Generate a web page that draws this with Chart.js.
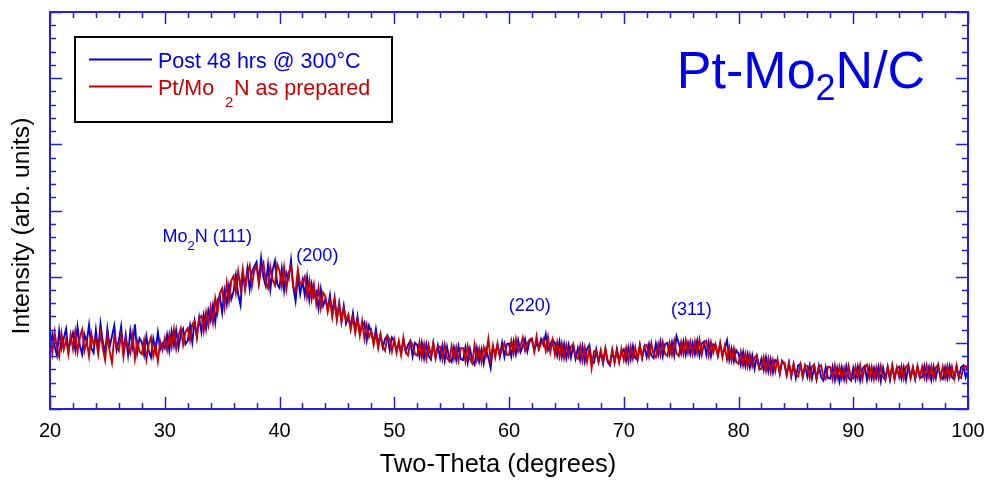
<!DOCTYPE html>
<html>
<head>
<meta charset="utf-8">
<title>Pt-Mo2N/C XRD</title>
<script src="https://cdn.jsdelivr.net/npm/chart.js@4.4.1/dist/chart.umd.min.js"></script>
<style>
  html, body { margin: 0; padding: 0; background: #fff; }
  #wrap { position: relative; width: 988px; height: 481px; }
</style>
</head>
<body>
<div id="wrap"><canvas id="xrd" width="988" height="481"></canvas></div>
<script>
// two-theta grid: 20..100 deg, 0.2 deg step
const thetaStart = 20;
const thetaStep = 0.2;
const xTicks = [20, 30, 40, 50, 60, 70, 80, 90, 100];

// intensity (arb. units x100), one row = 2 degrees
const postAnneal = [
  86, 112, 95, 81, 118, 92, 107, 121, 88, 104,
  115, 90, 124, 96, 83, 113, 101, 127, 92, 85,
  119, 88, 129, 102, 84, 121, 94, 110, 126, 89,
  104, 125, 86, 112, 82, 118, 95, 128, 85, 107,
  101, 82, 110, 88, 78, 106, 87, 116, 90, 99,
  92, 112, 88, 117, 96, 119, 93, 113, 121, 98,
  103, 126, 101, 132, 110, 138, 116, 142, 121, 149,
  134, 157, 131, 165, 171, 146, 179, 158, 187, 166,
  178, 202, 173, 157, 206, 184, 212, 181, 207, 215,
  222, 192, 228, 199, 186, 218, 181, 210, 224, 189,
  183, 212, 179, 206, 197, 225, 184, 163, 200, 174,
  194, 172, 199, 165, 189, 169, 177, 152, 181, 156,
  166, 151, 172, 144, 168, 137, 160, 133, 156, 129,
  139, 124, 145, 119, 140, 114, 125, 131, 104, 126,
  116, 101, 121, 98, 112, 93, 106, 111, 89, 108,
  103, 88, 99, 84, 104, 87, 97, 103, 80, 100,
  97, 79, 100, 77, 98, 80, 75, 99, 78, 96,
  77, 96, 73, 94, 76, 71, 93, 74, 95, 75,
  74, 93, 70, 91, 73, 67, 92, 72, 90, 69,
  90, 78, 62, 92, 83, 97, 79, 100, 79, 98,
  99, 80, 102, 83, 104, 86, 95, 106, 87, 103,
  104, 88, 100, 92, 106, 97, 113, 89, 98, 105,
  100, 81, 102, 79, 98, 77, 97, 78, 96, 76,
  92, 74, 95, 72, 91, 97, 73, 70, 90, 71,
  86, 69, 90, 71, 66, 88, 70, 91, 73, 85,
  90, 73, 93, 75, 95, 77, 74, 96, 78, 94,
  79, 98, 81, 77, 99, 82, 102, 80, 98, 100,
  83, 101, 81, 110, 99, 84, 102, 82, 100, 83,
  100, 83, 103, 81, 99, 102, 82, 101, 80, 98,
  96, 81, 98, 82, 92, 104, 74, 91, 72, 89,
  84, 67, 86, 65, 83, 63, 81, 61, 79, 62,
  76, 59, 78, 57, 75, 55, 74, 72, 53, 73,
  68, 51, 70, 49, 67, 47, 66, 68, 48, 65,
  49, 66, 46, 64, 45, 65, 48, 43, 63, 47,
  46, 64, 44, 62, 42, 63, 45, 65, 47, 43,
  62, 45, 64, 43, 61, 65, 44, 63, 46, 62,
  47, 64, 42, 62, 45, 63, 44, 65, 46, 62,
  64, 46, 63, 44, 65, 47, 62, 45, 64, 47,
  48, 65, 46, 63, 44, 64, 47, 66, 48, 45,
  63, 46, 65, 48, 45, 64, 47, 63, 66, 48,
  58
];

const asPrepared = [
  110, 84, 116, 93, 79, 114, 90, 105, 83, 112,
  91, 117, 86, 108, 120, 88, 103, 80, 114, 97,
  106, 83, 115, 92, 74, 111, 87, 70, 109, 95,
  88, 113, 79, 106, 93, 84, 111, 76, 102, 87,
  83, 104, 75, 98, 108, 80, 96, 72, 102, 89,
  107, 89, 113, 94, 120, 91, 111, 122, 97, 116,
  122, 104, 128, 133, 108, 137, 141, 118, 146, 127,
  154, 131, 167, 146, 175, 182, 154, 190, 163, 194,
  201, 176, 208, 183, 211, 180, 204, 217, 186, 209,
  216, 189, 212, 221, 192, 183, 215, 195, 187, 219,
  209, 186, 214, 181, 205, 216, 184, 178, 211, 188,
  191, 200, 170, 194, 166, 188, 159, 183, 153, 176,
  170, 147, 165, 139, 163, 135, 158, 131, 152, 134,
  143, 120, 138, 115, 136, 111, 133, 106, 127, 109,
  118, 97, 114, 92, 113, 94, 88, 110, 106, 87,
  105, 85, 103, 82, 108, 86, 81, 102, 98, 83,
  81, 101, 78, 98, 76, 97, 79, 100, 77, 95,
  94, 75, 97, 77, 72, 95, 76, 93, 73, 92,
  92, 72, 95, 75, 69, 97, 74, 91, 71, 93,
  81, 106, 75, 96, 78, 99, 80, 91, 100, 82,
  82, 103, 84, 106, 87, 95, 108, 88, 99, 105,
  107, 87, 110, 90, 99, 106, 88, 109, 86, 104,
  82, 101, 79, 99, 77, 97, 80, 94, 98, 79,
  76, 95, 73, 93, 71, 91, 62, 87, 89, 72,
  89, 71, 92, 73, 69, 90, 72, 88, 70, 91,
  74, 92, 72, 94, 76, 93, 75, 97, 77, 95,
  97, 79, 100, 82, 78, 98, 81, 101, 83, 80,
  100, 82, 103, 84, 80, 101, 83, 104, 85, 102,
  83, 102, 84, 105, 82, 100, 103, 81, 101, 85,
  98, 80, 100, 78, 95, 75, 93, 73, 91, 71,
  68, 86, 66, 84, 64, 82, 65, 78, 81, 61,
  60, 78, 58, 76, 56, 74, 57, 75, 55, 72,
  70, 52, 69, 50, 68, 51, 49, 67, 50, 66,
  65, 47, 64, 67, 46, 63, 66, 48, 45, 64,
  63, 45, 66, 47, 64, 46, 62, 44, 65, 47,
  46, 64, 47, 66, 45, 63, 67, 47, 64, 45,
  63, 46, 65, 48, 44, 64, 47, 66, 45, 63,
  48, 65, 46, 64, 67, 47, 63, 46, 65, 48,
  64, 47, 66, 48, 65, 46, 63, 67, 47, 64,
  47, 65, 48, 64, 46, 66, 49, 47, 64, 65,
  56
];

// peak labels: two-theta, intensity, text pieces ([text, isSubscript])
const peakLabels = [
  { x: 33.7, y: 261, parts: [['Mo', 0], ['2', 1], ['N (111)', 0]] },
  { x: 43.3, y: 233, parts: [['(200)', 0]] },
  { x: 61.8, y: 157, parts: [['(220)', 0]] },
  { x: 75.9, y: 151, parts: [['(311)', 0]] }
];

const BLUE = '#0000e6';
const RED = '#c80000';
const AXIS_BLUE = '#2020e6';
const FONT = 'Arial, "Liberation Sans", sans-serif';

function toPoints(values) {
  return values.map((v, i) => ({ x: +(thetaStart + i * thetaStep).toFixed(1), y: v }));
}

function drawPieces(ctx, parts, cx, baseY, size, subSize, subDrop, color) {
  const fontOf = (s) => `${s}px ${FONT}`;
  let width = 0;
  parts.forEach(([txt, sub]) => {
    ctx.font = fontOf(sub ? subSize : size);
    width += ctx.measureText(txt).width;
  });
  let x = cx - width / 2;
  ctx.fillStyle = color;
  ctx.textAlign = 'left';
  ctx.textBaseline = 'alphabetic';
  parts.forEach(([txt, sub]) => {
    ctx.font = fontOf(sub ? subSize : size);
    ctx.fillText(txt, x, baseY + (sub ? subDrop : 0));
    x += ctx.measureText(txt).width;
  });
}

const frameAndNotes = {
  id: 'frameAndNotes',
  afterDatasetsDraw(chart) {
    const { ctx, chartArea: a, scales: { x, y } } = chart;
    ctx.save();

    // inside ticks on all four sides
    ctx.strokeStyle = AXIS_BLUE;
    ctx.lineWidth = 1.5;
    ctx.beginPath();
    for (let t = x.min; t <= x.max; t += 2) {
      const px = Math.round(x.getPixelForValue(t)) + 0.5;
      const len = t % 10 === 0 ? 12 : 6;
      ctx.moveTo(px, a.bottom); ctx.lineTo(px, a.bottom - len);
      ctx.moveTo(px, a.top); ctx.lineTo(px, a.top + len);
    }
    for (let v = y.min; v <= y.max; v += 20) {
      const py = Math.round(y.getPixelForValue(v)) + 0.5;
      const len = v % 100 === 0 ? 12 : 6;
      ctx.moveTo(a.left, py); ctx.lineTo(a.left + len, py);
      ctx.moveTo(a.right, py); ctx.lineTo(a.right - len, py);
    }
    ctx.stroke();

    ctx.lineWidth = 2;
    ctx.strokeRect(a.left, a.top, a.right - a.left, a.bottom - a.top);

    // axis titles
    ctx.fillStyle = '#000';
    ctx.textAlign = 'center';
    ctx.textBaseline = 'middle';
    ctx.font = `25.5px ${FONT}`;
    ctx.fillText('Two-Theta (degrees)', 498, 465);
    ctx.save();
    ctx.translate(22, 226);
    ctx.rotate(-Math.PI / 2);
    ctx.font = `24.7px ${FONT}`;
    ctx.fillText('Intensity (arb. units)', 0, 0);
    ctx.restore();

    // peak labels
    peakLabels.forEach((p) => {
      drawPieces(ctx, p.parts, x.getPixelForValue(p.x), y.getPixelForValue(p.y) + 6,
        18, 13, 8, BLUE);
    });

    // sample title
    drawPieces(ctx, [['Pt-Mo', 0], ['2', 1], ['N/C', 0]], 801, 88, 52, 36, 12, BLUE);

    // legend box
    ctx.lineWidth = 2;
    ctx.strokeStyle = '#000';
    ctx.strokeRect(75, 37, 317, 85);
    ctx.strokeStyle = BLUE;
    ctx.beginPath(); ctx.moveTo(89, 59.5); ctx.lineTo(152, 59.5); ctx.stroke();
    ctx.strokeStyle = RED;
    ctx.beginPath(); ctx.moveTo(89, 86.5); ctx.lineTo(152, 86.5); ctx.stroke();
    ctx.textAlign = 'left';
    ctx.textBaseline = 'alphabetic';
    ctx.font = `21.5px ${FONT}`;
    ctx.fillStyle = BLUE;
    ctx.fillText('Post 48 hrs @ 300°C', 158, 68);
    ctx.fillStyle = RED;
    ctx.fillText('Pt/Mo', 158, 95);
    ctx.font = `15px ${FONT}`;
    ctx.fillText('2', 225, 107);
    ctx.font = `21.5px ${FONT}`;
    ctx.fillText('N as prepared', 234, 95);

    ctx.restore();
  }
};

new Chart(document.getElementById('xrd'), {
  type: 'line',
  data: {
    datasets: [
      {
        label: 'Pt/Mo2N as prepared',
        data: toPoints(asPrepared),
        borderColor: RED,
        borderWidth: 1.9,
        pointRadius: 0,
        tension: 0,
        order: 0
      },
      {
        label: 'Post 48 hrs @ 300°C',
        data: toPoints(postAnneal),
        borderColor: BLUE,
        borderWidth: 1.9,
        pointRadius: 0,
        tension: 0,
        order: 1
      }
    ]
  },
  options: {
    responsive: false,
    devicePixelRatio: 1,
    animation: false,
    layout: { padding: { top: 12, right: 20, left: 0, bottom: 0 } },
    plugins: {
      legend: { display: false },
      tooltip: { enabled: false }
    },
    scales: {
      x: {
        type: 'linear',
        min: 20,
        max: 100,
        afterBuildTicks(scale) {
          scale.ticks = xTicks.map((v) => ({ value: v }));
        },
        afterFit(scale) {
          scale.height = 72;
          scale.paddingLeft = 0;
          scale.paddingRight = 0;
        },
        grid: { display: false, drawTicks: false },
        border: { display: false },
        ticks: {
          padding: 10,
          color: '#000',
          font: { family: FONT, size: 20 },
          maxRotation: 0
        },
        title: { display: false }
      },
      y: {
        min: 0,
        max: 600,
        afterFit(scale) { scale.width = 50; },
        grid: { display: false, drawTicks: false },
        border: { display: false },
        ticks: { display: false },
        title: { display: false }
      }
    }
  },
  plugins: [frameAndNotes]
});
</script>
</body>
</html>
